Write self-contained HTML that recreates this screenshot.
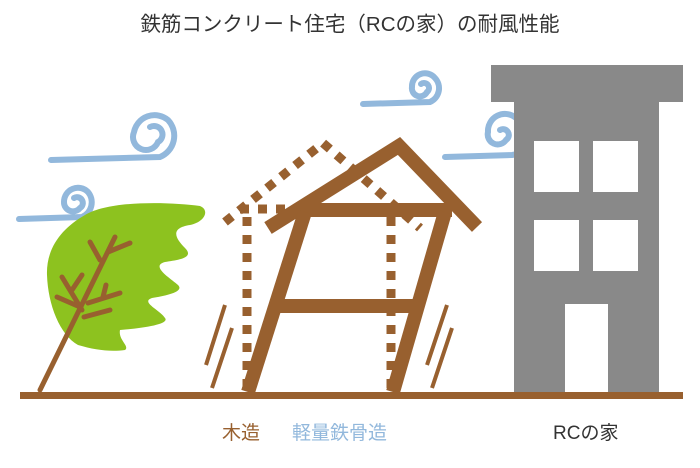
<!DOCTYPE html>
<html><head><meta charset="utf-8"><style>
body{margin:0;background:#fff;}
.wrap{position:relative;width:700px;height:468px;overflow:hidden;font-family:"Liberation Sans","Noto Sans CJK JP",sans-serif;}
.t{position:absolute;white-space:nowrap;}
</style></head><body><div class="wrap">
<div class="t" style="left:0;width:700px;text-align:center;top:7px;font-size:20.5px;color:#333;">鉄筋コンクリート住宅（RCの家）の耐風性能</div>
<svg width="700" height="468" style="position:absolute;left:0;top:0">
<g fill="none" stroke="#92b8dc" stroke-width="6" stroke-linecap="round">
<path d="M51,160 L160,157 A23,23 0 0 0 168,120 A21,21 0 0 0 134,132 A13,13 0 0 0 158,142 A7,7 0 0 0 150,127"/>
<path d="M19,219 L82,217 A16,16 0 0 0 88,192 A14,14 0 0 0 64,202 A9,9 0 0 0 80,208 A5,5 0 0 0 74,198"/>
<path d="M363,104 L430,102 A15,15 0 0 0 435,78 A13,13 0 0 0 412,87 A8,8 0 0 0 427,92 A4,4 0 0 0 421,84"/>
<path d="M445,157 L512,155 A19,19 0 0 0 516,118 A17,17 0 0 0 488,132 A10,10 0 0 0 506,140 A5,5 0 0 0 500,130"/>
</g>
<path fill="#8dc21f" d="M85,215 C110,200 170,202 200,206 C210,210 205,222 190,225 C170,228 175,238 185,248 C195,258 178,260 165,262 C150,266 170,278 178,285 C185,292 165,296 152,298 C140,302 160,310 165,318 C170,324 145,328 120,330 C118,340 130,346 125,350 C110,352 95,350 78,345 C60,335 48,305 47,275 C46,248 62,228 85,215 Z"/>
<g stroke="#98602f" stroke-width="5" stroke-linecap="round" fill="none">
<path d="M40,390 L115,237"/>
<path d="M100,260 L90,242 M108,252 L130,243"/>
<path d="M82,310 L62,277 M72,290 L82,275 M57,297 L80,307"/>
<path d="M88,303 L120,293 M103,297 L106,285"/>
<path d="M84,317 L110,310"/>
</g>
<g stroke="#98602f" stroke-width="4">
<path d="M225,305 L206,365 M232,328 L212,388 M447,305 L427,365 M452,328 L432,388"/>
</g>
<g stroke="#98602f" stroke-width="9" stroke-dasharray="9,9" fill="none">
<path d="M247,217 L247,390"/>
<path d="M391,217 L391,390"/>
<path d="M225,222 L323,143 L420,228"/>
<path d="M240,209 L285,209"/>
</g>
<g stroke="#98602f" stroke-width="14" fill="none">
<path d="M268,228 L399,146 L477,227" stroke-linejoin="miter"/>
<path d="M297,210 L452,210"/>
<path d="M305,212 L248,392"/>
<path d="M445,212 L393,392"/>
<path d="M280,306 L418,306"/>
</g>
<rect x="491" y="65" width="192" height="37" fill="#898989"/>
<rect x="514" y="101" width="145" height="292" fill="#898989"/>
<g fill="#fff">
<rect x="534" y="141" width="45" height="51"/><rect x="593" y="141" width="45" height="51"/>
<rect x="534" y="220" width="45" height="51"/><rect x="593" y="220" width="45" height="51"/>
<rect x="565" y="304" width="43" height="89"/>
</g>
<rect x="20" y="392" width="663" height="7" fill="#98602f"/>
</svg>
<div class="t" style="left:222px;top:418px;font-size:19px;color:#98602f;">木造</div>
<div class="t" style="left:292px;top:418px;font-size:19px;color:#92b8dc;">軽量鉄骨造</div>
<div class="t" style="left:553px;top:418px;font-size:19px;color:#333;">RCの家</div>
</div></body></html>
